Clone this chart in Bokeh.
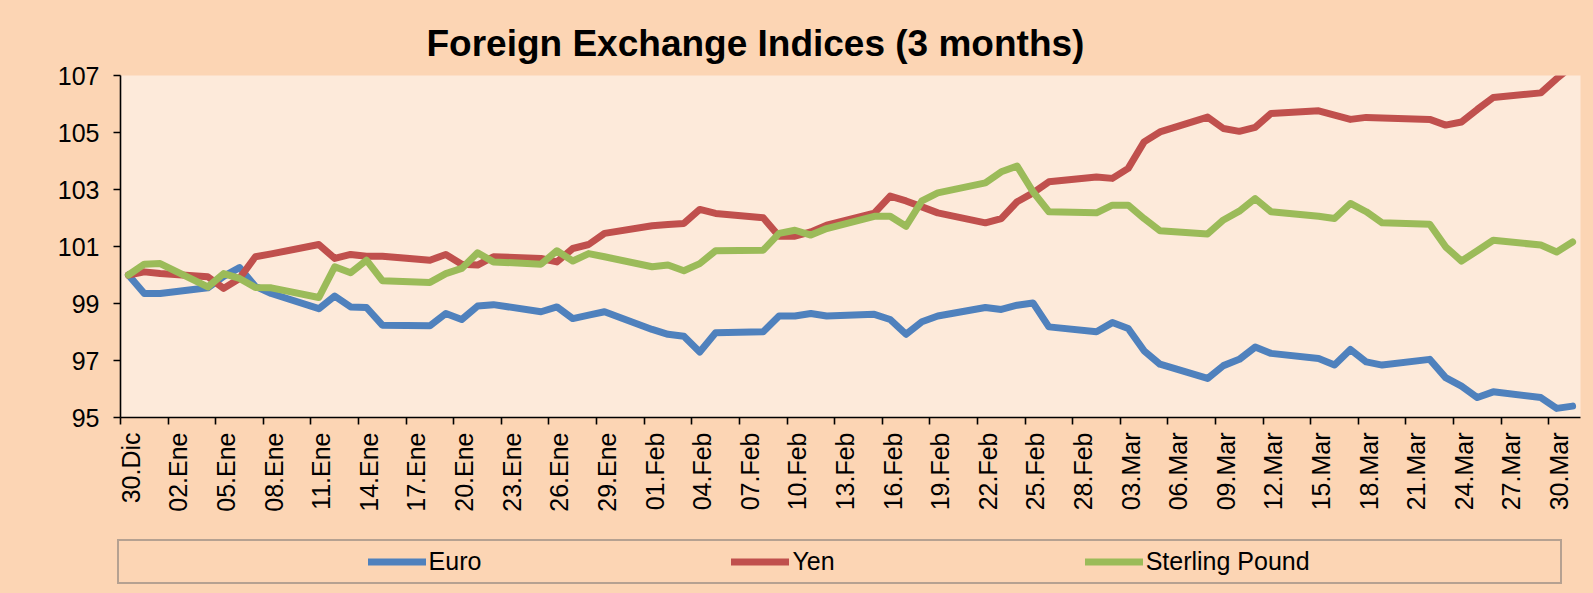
import math
from bokeh.plotting import figure
from bokeh.layouts import column
from bokeh.models import Range1d, FixedTicker, Legend, LegendItem, LinearAxis
from bokeh.embed import file_html
from bokeh.resources import INLINE

# ---------------- data ----------------
# day index counted from 30.Dic (business days only)
days = [0, 1, 2, 5, 6, 7, 8, 9, 12, 13, 14, 15, 16, 19, 20, 21, 22, 23,
        26, 27, 28, 29, 30, 33, 34, 35, 36, 37, 40, 41, 42, 43, 44,
        47, 48, 49, 50, 51, 54, 55, 56, 57, 58, 61, 62, 63, 64, 65,
        68, 69, 70, 71, 72, 75, 76, 77, 78, 79, 82, 83, 84, 85, 86, 89, 90, 91]

euro = [100.0, 99.35, 99.35, 99.55, 99.95, 100.26, 99.6, 99.35, 98.82, 99.26, 98.88, 98.86, 98.24,
        98.22, 98.65, 98.44, 98.91, 98.96,
        98.71, 98.88, 98.47, 98.59, 98.71, 98.09, 97.92, 97.85, 97.30, 97.97, 98.01, 98.56, 98.56,
        98.65, 98.56,
        98.62, 98.44, 97.92, 98.36, 98.56, 98.86, 98.79, 98.94, 99.02, 98.18, 98.01, 98.33, 98.12,
        97.34, 96.87,
        96.37, 96.82, 97.04, 97.47, 97.25, 97.07, 96.84, 97.39, 96.95, 96.84, 97.04, 96.40, 96.10,
        95.70, 95.90, 95.70, 95.32, 95.40]

yen = [100.0, 100.11, 100.05, 99.94, 99.53, 99.88, 100.64, 100.74, 101.07, 100.58, 100.72, 100.66,
       100.66, 100.52, 100.72, 100.38, 100.35, 100.64,
       100.58, 100.46, 100.93, 101.07, 101.46, 101.73, 101.77, 101.81, 102.30, 102.16, 102.01,
       101.36, 101.36, 101.51, 101.75,
       102.17, 102.77, 102.60, 102.39, 102.18, 101.83, 101.98, 102.57, 102.88, 103.27, 103.44,
       103.39, 103.74, 104.67, 105.02,
       105.54, 105.14, 105.04, 105.18, 105.67, 105.76, 105.61, 105.46, 105.53, 105.51, 105.46,
       105.26, 105.37, 105.81, 106.23, 106.39, 106.89, 107.35]

sterling = [100.0, 100.38, 100.40, 99.58, 100.05, 99.88, 99.56, 99.55, 99.21, 100.29, 100.08,
            100.52, 99.80, 99.74, 100.05, 100.23, 100.78, 100.46,
            100.38, 100.85, 100.49, 100.75, 100.64, 100.29, 100.35, 100.15, 100.40, 100.85, 100.87,
            101.46, 101.57, 101.40, 101.63,
            102.06, 102.06, 101.71, 102.60, 102.88, 103.23, 103.62, 103.82, 102.92, 102.22, 102.18,
            102.45, 102.45, 101.98, 101.55,
            101.44, 101.93, 102.24, 102.68, 102.22, 102.06, 101.98, 102.51, 102.22, 101.83, 101.78,
            100.99, 100.49, 100.85, 101.22, 101.05, 100.81, 101.16]

tick_days = [0, 3, 6, 9, 12, 15, 18, 21, 24, 27, 30, 33, 36, 39, 42, 45, 48, 51, 54, 57, 60,
             63, 66, 69, 72, 75, 78, 81, 84, 87, 90]
tick_labels = ["30.Dic", "02.Ene", "05.Ene", "08.Ene", "11.Ene", "14.Ene", "17.Ene", "20.Ene",
               "23.Ene", "26.Ene", "29.Ene", "01.Feb", "04.Feb", "07.Feb", "10.Feb", "13.Feb",
               "16.Feb", "19.Feb", "22.Feb", "25.Feb", "28.Feb", "03.Mar", "06.Mar", "09.Mar",
               "12.Mar", "15.Mar", "18.Mar", "21.Mar", "24.Mar", "27.Mar", "30.Mar"]
y_ticks = [95, 97, 99, 101, 103, 105, 107]

series_names = ["Euro", "Yen", "Sterling Pound"]
colors = ["#4F81BD", "#C0504D", "#9BBB59"]

FONT = "Liberation Sans"
OUTER = "#FCD5B4"
INNER = "#FDEADA"
NB = "\u00a0"
LW = 7

# ---------------- main chart ----------------
p = figure(width=1593, height=533, output_backend="svg", toolbar_location=None,
           x_range=Range1d(-0.5, 91.5), y_range=Range1d(95, 107),
           min_border_left=120, min_border_right=13, min_border_top=75, min_border_bottom=116,
           title="Foreign Exchange Indices (3 months)")
p.frame_align = False

p.background_fill_color = INNER
p.border_fill_color = OUTER
p.outline_line_color = None
p.grid.visible = False

p.title.text_font = FONT
p.title.text_font_size = "37px"
p.title.text_font_style = "bold"
p.title.text_color = "black"
p.title.align = "left"
p.title.offset = 306
p.title.standoff = 23

for ax in (p.xaxis[0], p.yaxis[0]):
    ax.axis_line_color = "black"
    ax.axis_line_width = 1.6
    ax.major_tick_line_color = "black"
    ax.major_tick_line_width = 1.6
    ax.major_tick_in = 0
    ax.major_tick_out = 7
    ax.minor_tick_line_color = None
    ax.major_label_text_font = FONT
    ax.major_label_text_font_size = "25px"
    ax.major_label_text_color = "black"

p.yaxis.ticker = FixedTicker(ticks=y_ticks)
p.yaxis.major_label_standoff = 14

# x axis: ticks only (bins start at each labelled day); its own labels are not drawn
x_tick_pos = [d - 0.5 for d in tick_days]
p.xaxis.ticker = FixedTicker(ticks=x_tick_pos)
p.xaxis.major_label_text_font_size = "2px"
p.xaxis.major_label_text_color = None
p.xaxis.major_label_standoff = 0

# x labels on an unlined axis, nudged right like the original
lab_shift = 0.65
lab_pos = [t + lab_shift for t in x_tick_pos]
lab_axis = LinearAxis(ticker=FixedTicker(ticks=lab_pos),
                      major_label_overrides={pos: lab for pos, lab in zip(lab_pos, tick_labels)},
                      major_label_orientation=math.pi / 2,
                      major_label_standoff=8,
                      axis_line_color=None, major_tick_line_color=None,
                      minor_tick_line_color=None, major_tick_in=0, major_tick_out=0,
                      major_label_text_font=FONT, major_label_text_font_size="25px",
                      major_label_text_color="black")
p.add_layout(lab_axis, "below")

for vals, col in zip([euro, yen, sterling], colors):
    p.line(days, vals, line_color=col, line_width=LW, line_cap="round", line_join="round")

# ---------------- legend strip ----------------
q = figure(width=1593, height=60, output_backend="svg", toolbar_location=None,
           x_range=Range1d(0, 1593), y_range=Range1d(0, 60),
           x_axis_location=None, y_axis_location=None,
           min_border_left=0, min_border_right=0, min_border_top=0, min_border_bottom=0)
q.frame_align = False
q.background_fill_color = OUTER
q.border_fill_color = OUTER
q.outline_line_color = None
q.grid.visible = False

# key renderers carry the series (their values lie outside this strip's range)
dummy = q.line(days, euro, line_alpha=0)
keys = [q.line(days, vals, line_color=col, line_width=LW, line_cap="round")
        for vals, col in zip([euro, yen, sterling], colors)]

labels = [NB * 27, series_names[0] + NB * 36, series_names[1] + NB * 36,
          series_names[2] + NB * 36]
items = [LegendItem(label=labels[0], renderers=[dummy])]
for lab, r in zip(labels[1:], keys):
    items.append(LegendItem(label=lab, renderers=[r]))

legend = Legend(items=items, location=(117, 9), orientation="horizontal",
                padding=0, margin=0, spacing=0, glyph_width=58, glyph_height=41,
                label_standoff=3, label_height=41, label_width=0,
                label_text_font=FONT, label_text_font_size="25px", label_text_color="black",
                border_line_color="#6E6E6E", border_line_width=2,
                background_fill_alpha=0)
q.add_layout(legend, "center")

page = column(p, q, spacing=0, styles={"background-color": OUTER})
open("out.html", "w").write(file_html(page, INLINE))
